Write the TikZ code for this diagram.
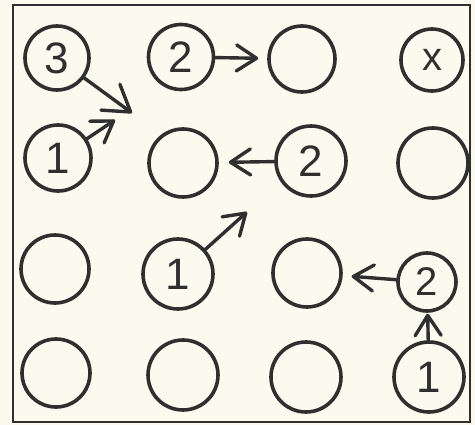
\documentclass[tikz,border=0pt]{standalone}
\usepackage{fontspec}
\newfontfamily\digitfont{Liberation Sans}
\usetikzlibrary{arrows.meta}
\definecolor{paper}{HTML}{FBFAEE}
\definecolor{ink}{HTML}{2F2F2F}
\begin{document}
\begin{tikzpicture}[x=1pt,y=-1pt,
  circ/.style={circle,draw=ink,line width=3.6pt,inner sep=0pt,minimum size=68pt,
    text=ink,font=\digitfont\fontsize{44}{44}\selectfont},
  arr/.style={draw=ink,line width=3.4pt,line cap=round,
    -{Straight Barb[length=20pt,width=26pt,line cap=round,line join=round]}},
  bigarr/.style={arr,-{Straight Barb[length=25pt,width=32pt,line cap=round,line join=round]}}]
\fill[paper] (0,0) rectangle (475,425);
\useasboundingbox (0,0) rectangle (475,425);
\draw[ink,line width=2.8pt] (13,5) rectangle (470,422);
% row 1
\node[circ,minimum size=64pt] (c11) at (57,58) {3};
\node[circ,minimum size=65pt] (c12) at (181,57) {2};
\node[circ,minimum size=66pt] (c13) at (302,59) {};
\node[circ,minimum size=62pt,font=\digitfont\fontsize{40}{40}\selectfont] (c14) at (432,60) {x};
% row 2
\node[circ,minimum size=66pt] (c21) at (58,158) {1};
\node[circ] (c22) at (183,163) {};
\node[circ,minimum size=70pt] (c23) at (311,161) {2};
\node[circ,minimum size=70pt] (c24) at (433,163) {};
% row 3
\node[circ] (c31) at (55,269) {};
\node[circ,minimum size=70pt] (c32) at (178,274) {1};
\node[circ] (c33) at (307,273) {};
\node[circ,minimum size=58pt,font=\digitfont\fontsize{40}{40}\selectfont] (c34) at (427,282) {2};
% row 4
\node[circ] (c41) at (56,373) {};
\node[circ,minimum size=70pt] (c42) at (183,375) {};
\node[circ,minimum size=70pt] (c43) at (306,377) {};
\node[circ,minimum size=70pt] (c44) at (429,377) {1};
% free ends
\coordinate (p1) at (132,113);
\coordinate (p2) at (115,120);
\coordinate (p3) at (247,212);
% arrows
\draw[bigarr] (c11) -- (p1);
\draw[arr] (c21) -- (p2);
\draw[arr,shorten >=9pt] (c12) -- (c13);
\draw[arr,shorten >=10pt] (c23) -- (c22);
\draw[arr] (c32) -- (p3);
\draw[arr,shorten >=9pt] (c34) -- (c33);
\draw[arr,shorten >=1pt] (c44) -- (c34);
\end{tikzpicture}
\end{document}
